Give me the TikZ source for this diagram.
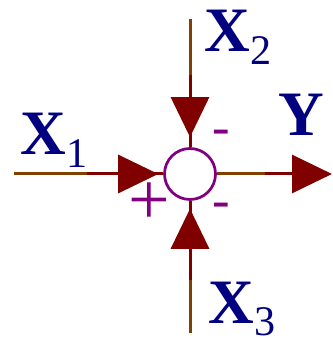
\documentclass[tikz,border=0pt]{standalone}
\usepackage{fontspec}
\setmainfont{Liberation Serif}
\usetikzlibrary{arrows.meta, decorations.markings}
\definecolor{navytxt}{HTML}{000080}
\definecolor{darkred}{HTML}{800000}
\definecolor{brownln}{HTML}{804000}
\definecolor{purpl}{HTML}{800080}
\tikzset{
    feed/.style = {draw=brownln, line width=0.06cm},
    sig/.style = {draw=darkred, line width=0.06cm},
    tri/.tip = {Triangle[length=0.8cm, width=0.76cm]},
    headat/.style = {
        postaction={decorate},
        decoration={markings, mark=at position -#1 with {\arrow[darkred]{tri}}}
    },
    sumpt/.style = {
        circle,
        draw=purpl,
        line width=0.055cm,
        minimum size=1.02cm,
        inner sep=0pt
    },
    varlabel/.style = {
        text=navytxt,
        inner sep=0pt,
        anchor=base west,
        font=\fontsize{36}{40}\selectfont
    },
    signlabel/.style = {text=purpl, inner sep=0pt}
}
\newcommand{\varsub}[2]{\textbf{#1}\raisebox{-7pt}{\fontsize{24}{24}\selectfont #2}}

\begin{document}
\begin{tikzpicture}[x=0.02cm, y=-0.02cm]
\useasboundingbox (0,0) rectangle (332,340);

\node (sum) [sumpt] at (190,174) {};

\coordinate (in1) at (14,174);
\coordinate (k1) at (87,174);
\coordinate (in2) at (190,19);
\coordinate (k2) at (190,75);
\coordinate (in3) at (190,333);
\coordinate (k3) at (190,280);
\coordinate (k4) at (265,174);
\coordinate (out) at (332,174);

% inputs
\draw [feed] (in1) -- (k1);
\draw [sig, headat=2.8pt] (k1) -- (sum);
\draw [feed] (in2) -- (k2);
\draw [sig, headat=5.7pt] (k2) -- (sum);
\draw [feed] (in3) -- (k3);
\draw [sig, headat=4.5pt] (k3) -- (sum);

% output
\draw [feed] (sum) -- (k4);
\draw [sig, -tri] (k4) -- (out);

% labels
\node (lx1) [varlabel] at (20,155) {\varsub{X}{1}};
\node (lx2) [varlabel] at (204,52) {\varsub{X}{2}};
\node (lx3) [varlabel] at (208,323) {\varsub{X}{3}};
\node (ly) [varlabel] at (278,136) {\textbf{Y}};

\node (m2) [signlabel, font=\fontsize{30}{30}\selectfont] at (221,137) {-};
\node (m3) [signlabel, font=\fontsize{30}{30}\selectfont] at (221,210) {-};
\node (p1) [signlabel, font=\fontsize{42}{42}\selectfont] at (149,204) {+};

\end{tikzpicture}
\end{document}
